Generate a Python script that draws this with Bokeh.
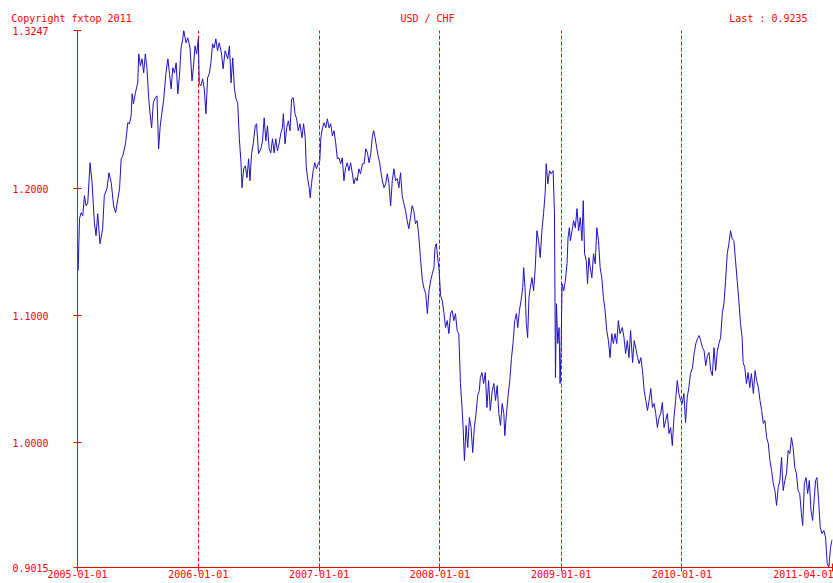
import pandas as pd
from bokeh.plotting import figure
from bokeh.models import Range1d, FixedTicker, LinearAxis
from bokeh.embed import file_html
from bokeh.resources import INLINE

# ---------------- data ----------------
start_date = "2005-01-01"
end_date = "2011-04-01"

# days after 2005-01-01
day_offsets = [
    2, 6, 11, 16, 21, 26, 31, 38, 44, 51, 56, 61, 68, 76, 81, 89, 95, 102, 109, 115,
    122, 127, 132, 137, 145, 152, 157, 162, 165, 169, 175, 182, 185, 190, 195, 200, 205, 210, 215, 219,
    224, 229, 235, 240, 245, 250, 255, 260, 267, 273, 278, 283, 288, 293, 298, 303, 308, 313, 318, 321,
    328, 333, 340, 346, 350, 355, 360, 365, 368, 373, 378, 383, 388, 393, 398, 403, 408, 413, 418, 423,
    428, 435, 440, 446, 454, 459, 464, 469, 474, 479, 484, 489, 494, 497, 502, 507, 512, 517, 521, 526,
    531, 537, 541, 547, 554, 559, 564, 569, 574, 579, 584, 589, 594,
    599, 604, 609, 614, 619, 622, 627, 632, 637, 642, 647, 652, 657, 662, 667, 672, 678, 683, 688, 691,
    695, 700, 703, 707, 712, 717, 722, 727, 732, 735, 740, 745, 750, 755, 760, 765, 770, 775, 780, 785,
    790, 795, 800, 805, 810, 815, 820, 825, 830, 835, 840, 845, 850, 855, 861, 866, 871, 876, 881, 886,
    891, 895, 899, 904, 908, 913, 916, 921, 926, 931, 936, 941, 946, 951, 956, 961, 966, 971, 976, 981,
    986, 991, 996, 1001, 1006, 1011, 1016, 1021, 1026, 1031, 1036, 1042, 1047, 1052, 1057, 1062, 1067, 1072, 1077, 1080,
    1084, 1089, 1092, 1097, 1102, 1107, 1112, 1117, 1122, 1127, 1132, 1137, 1142, 1147, 1152,
    1157, 1162, 1165, 1169, 1174, 1179, 1184, 1189, 1194, 1199, 1204, 1209, 1214, 1217, 1222, 1227, 1232, 1237, 1242, 1247,
    1253, 1258, 1263, 1268, 1273, 1278, 1283, 1288, 1291, 1296, 1301, 1306, 1311, 1316, 1321, 1326, 1330, 1335, 1340, 1345,
    1348, 1352, 1356, 1360, 1364, 1368, 1373, 1378, 1383, 1388, 1393, 1398, 1403, 1408, 1413, 1416, 1421, 1426, 1431, 1437,
    1441, 1444, 1447, 1451, 1455, 1458, 1461, 1464, 1469, 1474, 1479, 1482, 1486, 1489, 1494, 1499, 1504, 1509, 1514, 1519,
    1524, 1528, 1532, 1537, 1541, 1545, 1549, 1554, 1559, 1564, 1569, 1574, 1579, 1584, 1589, 1594, 1599, 1604, 1609, 1614,
    1619, 1624, 1629, 1634, 1639,
    1646, 1651, 1656, 1661, 1666, 1671, 1677, 1682, 1687, 1692, 1697, 1702, 1707, 1712, 1717, 1722, 1727, 1732, 1737, 1742,
    1747, 1752, 1757, 1762, 1767, 1772, 1777, 1782, 1787, 1792, 1797, 1802, 1807, 1812, 1817, 1822, 1827, 1832, 1837, 1842,
    1847, 1852, 1858, 1863, 1868, 1873, 1878, 1883, 1888, 1893, 1898, 1903, 1908, 1913, 1918, 1923, 1928, 1933, 1938, 1943,
    1948, 1953, 1958, 1963, 1968, 1973, 1978, 1983, 1988, 1993, 1998, 2003, 2008, 2011, 2016, 2021, 2026, 2031, 2036, 2042,
    2047, 2052, 2057, 2062, 2067, 2072, 2077, 2082, 2087, 2092, 2097, 2102, 2107, 2112, 2117, 2122, 2127, 2132, 2137, 2142,
    2147, 2152, 2157, 2162, 2167, 2172, 2177, 2182, 2187, 2191, 2196, 2201, 2206, 2211, 2216, 2221, 2226, 2230, 2234, 2239,
    2244, 2249, 2255, 2260, 2265, 2270, 2275, 2280,
]

usd_chf = [
    1.1354, 1.1764, 1.1811, 1.1787, 1.1945, 1.1866, 1.1890, 1.2205, 1.2047, 1.1732, 1.1630, 1.1803, 1.1567, 1.1685, 1.1945, 1.2000, 1.2126, 1.2047, 1.1866, 1.1811,
    1.1921, 1.2000, 1.2236, 1.2260, 1.2354, 1.2520, 1.2512, 1.2575, 1.2748, 1.2669, 1.2756, 1.2835, 1.3063, 1.2969, 1.3024, 1.2913, 1.3063, 1.2945, 1.2717, 1.2598,
    1.2480, 1.2677, 1.2717, 1.2732, 1.2315, 1.2496, 1.2598, 1.2693, 1.2906, 1.3024, 1.2906, 1.2787, 1.2953, 1.2913, 1.2992, 1.2748, 1.2890, 1.3110, 1.3181, 1.3247,
    1.3150, 1.3189, 1.3110, 1.2850, 1.2953, 1.3126, 1.3063, 1.3181, 1.2827, 1.2811, 1.2866, 1.2787, 1.2591, 1.2874, 1.2906, 1.2992, 1.3142, 1.3110, 1.3181, 1.3087,
    1.3150, 1.3071, 1.2945, 1.3087, 1.3024, 1.3126, 1.2835, 1.3031, 1.2787, 1.2709, 1.2677, 1.2394, 1.2205, 1.2008, 1.2157, 1.2181, 1.2087, 1.2236, 1.2063, 1.2276,
    1.2354, 1.2496, 1.2512, 1.2276, 1.2315, 1.2378, 1.2559, 1.2378, 1.2496, 1.2315, 1.2283, 1.2394, 1.2283,
    1.2394, 1.2299, 1.2354, 1.2433, 1.2480, 1.2591, 1.2354, 1.2480, 1.2535, 1.2457, 1.2709, 1.2717, 1.2591, 1.2551, 1.2457, 1.2512, 1.2402, 1.2512, 1.2402, 1.2181,
    1.2087, 1.2008, 1.1929, 1.2039, 1.2142, 1.2205, 1.2157, 1.2197, 1.2220, 1.2394, 1.2480, 1.2520, 1.2480, 1.2551, 1.2480, 1.2512, 1.2417, 1.2457, 1.2362, 1.2236,
    1.2244, 1.2197, 1.2244, 1.2063, 1.2165, 1.2205, 1.2142, 1.2205, 1.2126, 1.2039, 1.2087, 1.2063, 1.2157, 1.2118, 1.2197, 1.2197, 1.2315, 1.2283, 1.2205, 1.2276,
    1.2417, 1.2457, 1.2402, 1.2323, 1.2260, 1.2205, 1.2142, 1.2063, 1.2008, 1.2039, 1.2118, 1.2039, 1.1866, 1.2063, 1.2157, 1.2063, 1.2079, 1.2008, 1.2126, 1.1945,
    1.1882, 1.1827, 1.1748, 1.1685, 1.1772, 1.1866, 1.1827, 1.1724, 1.1748, 1.1630, 1.1457, 1.1276, 1.1213, 1.1173, 1.1016, 1.1197, 1.1276, 1.1331, 1.1378, 1.1535,
    1.1567, 1.1433, 1.1378, 1.1157, 1.1118, 1.1024, 1.0906, 1.0961, 1.0858, 1.1016, 1.1039, 1.0961, 1.1016, 1.0882, 1.0858,
    1.0465, 1.0268, 1.0118, 0.9858, 1.0134, 0.9961, 1.0197, 1.0118, 0.9921, 1.0118, 1.0228, 1.0370, 1.0409, 1.0512, 1.0551, 1.0465, 1.0551, 1.0276, 1.0488, 1.0252,
    1.0409, 1.0465, 1.0331, 1.0449, 1.0228, 1.0134, 1.0307, 1.0228, 1.0055, 1.0228, 1.0370, 1.0488, 1.0661, 1.0787, 1.0961, 1.1016, 1.0906, 1.1039, 1.1118, 1.1220,
    1.1378, 1.1220, 1.0937, 1.0827, 1.1142, 1.1220, 1.1299, 1.1197, 1.1378, 1.1669, 1.1591, 1.1457, 1.1669, 1.1803, 1.1969, 1.2197, 1.2039, 1.2142, 1.2118, 1.2142,
    1.1803, 1.0512, 1.1094, 1.0780, 1.0906, 1.0465, 1.0748, 1.1252, 1.1197, 1.1276, 1.1409, 1.1614, 1.1693, 1.1591, 1.1669, 1.1748, 1.1693, 1.1843, 1.1669, 1.1772,
    1.1591, 1.1906, 1.1488, 1.1433, 1.1252, 1.1457, 1.1378, 1.1299, 1.1488, 1.1409, 1.1693, 1.1591, 1.1378, 1.1299, 1.1142, 1.1039, 1.0882, 1.0803, 1.0669, 1.0858,
    1.0780, 1.0858, 1.0780, 1.0961, 1.0858,
    1.0906, 1.0827, 1.0701, 1.0803, 1.0669, 1.0882, 1.0630, 1.0803, 1.0740, 1.0669, 1.0622, 1.0669, 1.0567, 1.0409, 1.0331, 1.0252, 1.0331, 1.0425, 1.0276, 1.0307,
    1.0228, 1.0118, 1.0197, 1.0228, 1.0315, 1.0118, 1.0173, 1.0228, 1.0071, 1.0118, 0.9976, 1.0197, 1.0331, 1.0488, 1.0386, 1.0331, 1.0307, 1.0386, 1.0157, 1.0354,
    1.0433, 1.0543, 1.0591, 1.0701, 1.0780, 1.0819, 1.0843, 1.0803, 1.0748, 1.0724, 1.0606, 1.0685, 1.0709, 1.0567, 1.0528, 1.0748, 1.0567, 1.0724, 1.0780, 1.0827,
    1.1016, 1.1094, 1.1276, 1.1488, 1.1567, 1.1669, 1.1606, 1.1591, 1.1433, 1.1276, 1.1118, 1.0937, 1.0827, 1.0630, 1.0591, 1.0465, 1.0551, 1.0433, 1.0543, 1.0386,
    1.0567, 1.0488, 1.0433, 1.0331, 1.0252, 1.0150, 1.0173, 1.0039, 0.9992, 0.9858, 0.9780, 0.9677, 0.9622, 0.9504, 0.9646, 0.9701, 0.9882, 0.9622, 0.9701, 0.9756,
    0.9937, 0.9913, 1.0039, 0.9961, 0.9803, 0.9756, 0.9622, 0.9598, 0.9441, 0.9346, 0.9677, 0.9724, 0.9598, 0.9701, 0.9465, 0.9386, 0.9567, 0.9701, 0.9724, 0.9543,
    0.9331, 0.9283, 0.9307, 0.9252, 0.9047, 0.9015, 0.9173, 0.9235,
]

x_tick_labels = ["2005-01-01", "2006-01-01", "2007-01-01", "2008-01-01",
                 "2009-01-01", "2010-01-01", "2011-04-01"]
grid_dates = ["2006-01-01", "2007-01-01", "2008-01-01", "2009-01-01", "2010-01-01"]
y_ticks = [0.9015, 1.0, 1.1, 1.2, 1.3247]
y_tick_labels = ["0.9015", "1.0000", "1.1000", "1.2000", "1.3247"]
y_min, y_max = 0.9015, 1.3247

header_texts = ["Copyright fxtop 2011", "USD / CHF", "Last : 0.9235"]

# ---------------- layout / style ----------------
RED = "#ff0000"
BLUE = "#2010c0"
FONT = "DejaVu Sans Mono"
NB = "\u00a0"
header_centres = [0.0, 0.4636, 0.9152]   # fraction of the frame width
header_pads = [2, 0, 0]                  # trailing padding, keeps left text at page edge

dates = pd.Timestamp(start_date) + pd.to_timedelta(day_offsets, unit="D")


def ms(d):
    return float(pd.Timestamp(d).value / 1e6)


x0, x1 = ms(start_date), ms(end_date)

p = figure(width=833, height=583, x_axis_type="datetime",
           output_backend="svg", toolbar_location=None,
           x_range=Range1d(x0, x1), y_range=Range1d(y_min, y_max),
           min_border_left=77, min_border_right=1,
           min_border_top=30, min_border_bottom=16)
p.outline_line_color = None
p.background_fill_color = "white"
p.border_fill_color = "white"

p.line(dates, usd_chf, line_color=BLUE, line_width=1)

# bottom x axis
xa = p.below[0]
xticks = [ms(d) for d in x_tick_labels]
xa.ticker = FixedTicker(ticks=xticks)
xa.major_label_overrides = {t: s for t, s in zip(xticks, x_tick_labels)}
xa.axis_line_color = RED
xa.major_tick_line_color = RED
xa.major_tick_in = 4
xa.major_tick_out = 4
xa.minor_tick_line_color = None
xa.major_label_text_font = FONT
xa.major_label_text_font_size = "10px"
xa.major_label_text_color = RED
xa.major_label_standoff = -2

# y axis
ya = p.left[0]
ya.ticker = FixedTicker(ticks=y_ticks)
ya.major_label_overrides = {t: s for t, s in zip(y_ticks, y_tick_labels)}
ya.axis_line_color = RED
ya.major_tick_line_color = RED
ya.major_tick_in = 4
ya.major_tick_out = 4
ya.minor_tick_line_color = None
ya.major_label_text_font = FONT
ya.major_label_text_font_size = "10px"
ya.major_label_text_color = RED
ya.major_label_standoff = 25

# grid: dashed vertical lines at year starts
p.ygrid.visible = False
p.xgrid.ticker = FixedTicker(ticks=[ms(d) for d in grid_dates])
p.xgrid.grid_line_color = RED
p.xgrid.grid_line_dash = "4 2"
p.xgrid.grid_line_width = 1

# header row: three separate texts on a bare axis above the frame
h_ticks = [x0 + f * (x1 - x0) for f in header_centres]
top = LinearAxis(ticker=FixedTicker(ticks=h_ticks),
                 major_label_overrides={t: s + NB * n for t, s, n in zip(h_ticks, header_texts, header_pads)},
                 axis_line_color=None, major_tick_line_color=None, minor_tick_line_color=None,
                 major_tick_in=0, major_tick_out=0, major_label_standoff=7,
                 major_label_text_font=FONT, major_label_text_font_size="10px",
                 major_label_text_color=RED)
p.add_layout(top, "above")

open("out.html", "w").write(file_html(p, INLINE))
